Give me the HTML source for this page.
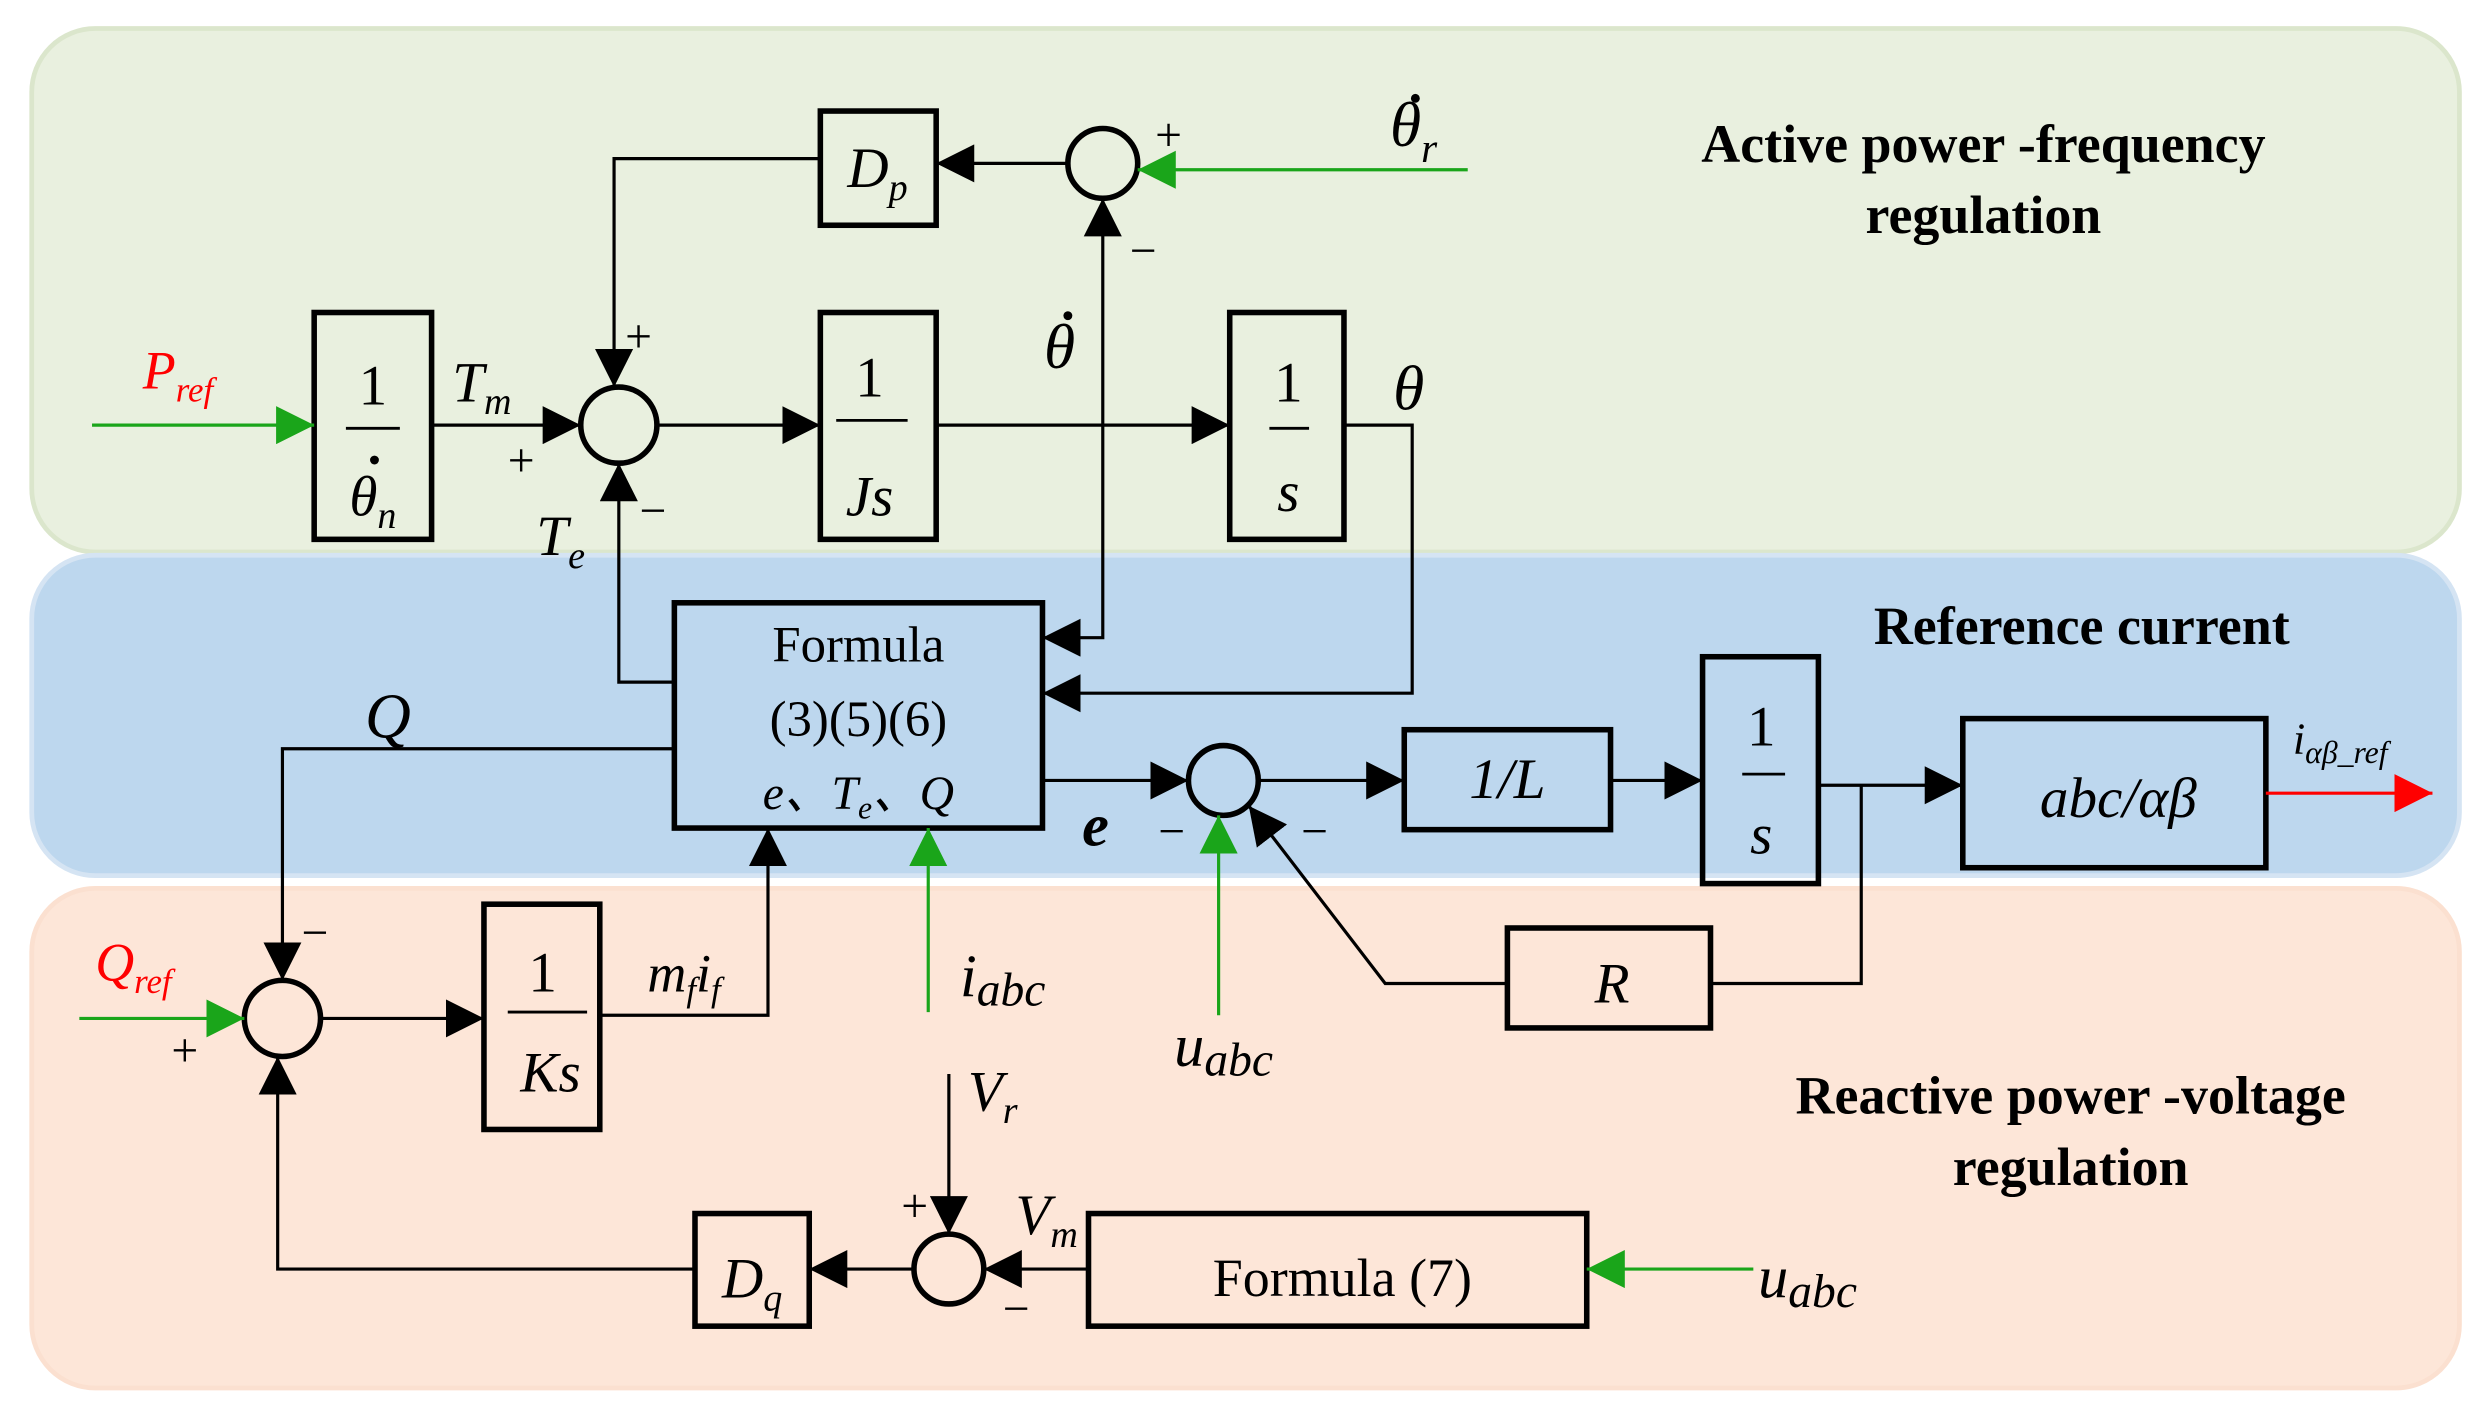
<!DOCTYPE html>
<html><head><meta charset="utf-8"><style>
html,body{margin:0;padding:0;background:#fff;width:2488px;height:1415px;overflow:hidden}
svg{display:block}
text{font-family:"Liberation Serif",serif}
.i{font-style:italic}
</style></head><body>
<svg width="2488" height="1415" viewBox="0 0 1568 892" preserveAspectRatio="none">
<defs>
<marker id="A" viewBox="0 0 10 10" refX="10" refY="5" markerWidth="24" markerHeight="24" markerUnits="userSpaceOnUse" orient="auto"><path d="M0,0L10,5L0,10z" fill="#000"/></marker>
<marker id="G" viewBox="0 0 10 10" refX="10" refY="5" markerWidth="24" markerHeight="24" markerUnits="userSpaceOnUse" orient="auto"><path d="M0,0L10,5L0,10z" fill="#1aa51a"/></marker>
<marker id="R" viewBox="0 0 10 10" refX="10" refY="5" markerWidth="24" markerHeight="24" markerUnits="userSpaceOnUse" orient="auto"><path d="M0,0L10,5L0,10z" fill="#f00"/></marker>
</defs>
<rect x="20" y="18" width="1530" height="330" rx="40" fill="#e9f0df" stroke="#dbe6cc" stroke-width="3"/>
<rect x="20" y="350" width="1530" height="202" rx="40" fill="#bdd7ee" stroke="#d5e4f3" stroke-width="3"/>
<rect x="20" y="560" width="1530" height="315" rx="40" fill="#fde6d8" stroke="#fbe0d0" stroke-width="3"/>

<g fill="none" stroke="#000" stroke-width="3.5">
<rect x="517" y="70" width="73" height="72"/>
<rect x="198" y="197" width="74" height="143"/>
<rect x="517" y="197" width="73" height="143"/>
<rect x="775" y="197" width="72" height="143"/>
<rect x="425" y="380" width="232" height="142"/>
<rect x="305" y="570" width="73" height="142"/>
<rect x="885" y="460" width="130" height="63"/>
<rect x="1073" y="414" width="73" height="143"/>
<rect x="1237" y="453" width="191" height="94"/>
<rect x="950" y="585" width="128" height="63"/>
<rect x="686" y="765" width="314" height="71"/>
<rect x="438" y="765" width="72" height="71"/>
<circle cx="695" cy="103" r="22"/>
<circle cx="390" cy="268" r="24"/>
<circle cx="178" cy="642" r="24"/>
<circle cx="771" cy="492" r="22"/>
<circle cx="598" cy="800" r="22"/>
</g>
<g fill="none" stroke="#000" stroke-width="1.8">
<line x1="218" y1="270" x2="252" y2="270"/>
<line x1="527" y1="265" x2="572" y2="265"/>
<line x1="800" y1="270" x2="825" y2="270"/>
<line x1="320" y1="638" x2="370" y2="638"/>
<line x1="1098" y1="488" x2="1125" y2="488"/>
</g>
<g fill="none" stroke="#000" stroke-width="2">
<line x1="673" y1="103" x2="590" y2="103" marker-end="url(#A)"/>
<polyline points="517,100 387,100 387,244" marker-end="url(#A)"/>
<line x1="272" y1="268" x2="366" y2="268" marker-end="url(#A)"/>
<line x1="414" y1="268" x2="517" y2="268" marker-end="url(#A)"/>
<line x1="590" y1="268" x2="775" y2="268" marker-end="url(#A)"/>
<polyline points="847,268 890,268 890,437 657,437" marker-end="url(#A)"/>
<line x1="695" y1="268" x2="695" y2="125" marker-end="url(#A)"/>
<polyline points="695,268 695,402 657,402" marker-end="url(#A)"/>
<polyline points="425,430 390,430 390,292" marker-end="url(#A)"/>
<polyline points="425,472 178,472 178,618" marker-end="url(#A)"/>
<line x1="202" y1="642" x2="305" y2="642" marker-end="url(#A)"/>
<polyline points="378,640 484,640 484,522" marker-end="url(#A)"/>
<line x1="657" y1="492" x2="749" y2="492" marker-end="url(#A)"/>
<line x1="793" y1="492" x2="885" y2="492" marker-end="url(#A)"/>
<line x1="1015" y1="492" x2="1073" y2="492" marker-end="url(#A)"/>
<line x1="1146" y1="495" x2="1237" y2="495" marker-end="url(#A)"/>
<polyline points="1173,495 1173,620 1078,620"/>
<polyline points="950,620 873,620 787,508" marker-end="url(#A)"/>
<line x1="598" y1="677" x2="598" y2="778" marker-end="url(#A)"/>
<line x1="686" y1="800" x2="620" y2="800" marker-end="url(#A)"/>
<line x1="576" y1="800" x2="510" y2="800" marker-end="url(#A)"/>
<polyline points="438,800 175,800 175,666" marker-end="url(#A)"/>
</g>
<g fill="none" stroke="#1aa51a" stroke-width="2">
<line x1="925" y1="107" x2="717" y2="107" marker-end="url(#G)"/>
<line x1="58" y1="268" x2="198" y2="268" marker-end="url(#G)"/>
<line x1="50" y1="642" x2="154" y2="642" marker-end="url(#G)"/>
<line x1="585" y1="638" x2="585" y2="522" marker-end="url(#G)"/>
<line x1="768" y1="640" x2="768" y2="514" marker-end="url(#G)"/>
<line x1="1105" y1="800" x2="1000" y2="800" marker-end="url(#G)"/>
</g>
<line x1="1428" y1="500" x2="1533" y2="500" stroke="#f00" stroke-width="2" marker-end="url(#R)"/>

<g fill="#000">
<circle cx="892" cy="62" r="2.8"/>
<circle cx="673" cy="199" r="2.8"/>
<circle cx="236" cy="290" r="2.8"/>
</g>

<g font-size="36" text-anchor="middle" class="i">
<text x="553" y="118">D<tspan font-size="24" dy="8">p</tspan></text>
<text x="235" y="255" font-style="normal">1</text>
<text x="235" y="325">θ<tspan font-size="24" dy="8">n</tspan></text>
<text x="548" y="250" font-style="normal">1</text>
<text x="548" y="325">Js</text>
<text x="812" y="253" font-style="normal">1</text>
<text x="812" y="322">s</text>
<text x="342" y="625" font-style="normal">1</text>
<text x="347" y="688">Ks</text>
<text x="1110" y="470" font-style="normal">1</text>
<text x="1110" y="538">s</text>
<text x="950" y="503">1/L</text>
<text x="1335" y="515">abc/αβ</text>
<text x="1016" y="632">R</text>
<text x="474" y="818">D<tspan font-size="24" dy="8">q</tspan></text>
</g>
<g font-size="36" text-anchor="middle">
<text x="541" y="417" font-size="32">Formula</text>
<text x="541" y="464" font-size="32">(3)(5)(6)</text>
<text x="541" y="510" font-size="30" class="i">e、T<tspan font-size="20" dy="6">e</tspan><tspan dy="-6">、Q</tspan></text>
<text x="846" y="817" font-size="34">Formula (7)</text>
</g>
<g font-size="40" class="i">
<text x="876" y="92">θ<tspan font-size="26" dy="10">r</tspan></text>
<text x="658" y="232">θ</text>
<text x="878" y="258">θ</text>
<text x="285" y="253" font-size="36">T<tspan font-size="24" dy="8">m</tspan></text>
<text x="338" y="350" font-size="36">T<tspan font-size="24" dy="8">e</tspan></text>
<text x="90" y="245" font-size="34" fill="#f00">P<tspan font-size="22" dy="8">ref</tspan></text>
<text x="60" y="618" font-size="34" fill="#f00">Q<tspan font-size="22" dy="8">ref</tspan></text>
<text x="230" y="465">Q</text>
<text x="408" y="625" font-size="34">m<tspan font-size="22" dy="6">f</tspan><tspan dy="-6">i</tspan><tspan font-size="22" dy="6">f</tspan></text>
<text x="605" y="628" font-size="38">i<tspan font-size="30" dy="6">abc</tspan></text>
<text x="740" y="672" font-size="38">u<tspan font-size="30" dy="6">abc</tspan></text>
<text x="1108" y="818" font-size="38">u<tspan font-size="30" dy="6">abc</tspan></text>
<text x="682" y="533" font-weight="bold" font-size="38">e</text>
<text x="610" y="700" font-size="36">V<tspan font-size="24" dy="8">r</tspan></text>
<text x="640" y="778" font-size="36">V<tspan font-size="24" dy="8">m</tspan></text>
<text x="1445" y="475" font-size="28">i<tspan font-size="20" dy="6">αβ_ref</tspan></text>
</g>
<g font-size="30">
<text x="728" y="95">+</text>
<text x="712" y="168">−</text>
<text x="394" y="222">+</text>
<text x="320" y="300">+</text>
<text x="403" y="332">−</text>
<text x="190" y="598">−</text>
<text x="108" y="672">+</text>
<text x="730" y="534">−</text>
<text x="820" y="534">−</text>
<text x="568" y="770">+</text>
<text x="632" y="835">−</text>
</g>
<g font-size="34" font-weight="bold" text-anchor="middle">
<text x="1250" y="102">Active power -frequency</text>
<text x="1250" y="147">regulation</text>
<text x="1312" y="406">Reference current</text>
<text x="1305" y="702">Reactive power -voltage</text>
<text x="1305" y="747">regulation</text>
</g>
</svg>
</body></html>
